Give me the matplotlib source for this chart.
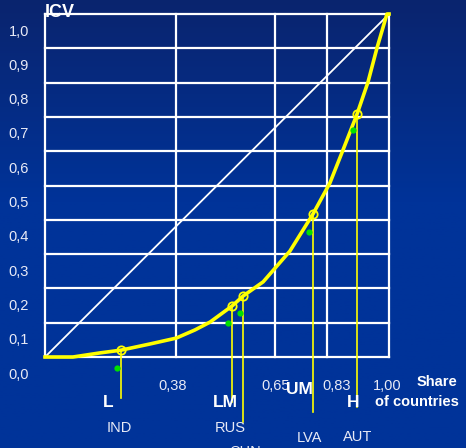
import numpy as np
import matplotlib.pyplot as plt

plt.rcParams['font.family'] = ['Liberation Sans', 'DejaVu Sans']

# データ
curve_x = [0.0, 0.081, 0.160, 0.221, 0.305, 0.381, 0.436, 0.480, 0.544, 0.576,
           0.634, 0.712, 0.779, 0.828, 0.866, 0.907, 0.939, 0.965, 0.994, 1.0]
curve_y = [0.0, 0.0, 0.012, 0.020, 0.038, 0.055, 0.079, 0.102, 0.149, 0.178,
           0.219, 0.309, 0.417, 0.507, 0.603, 0.708, 0.802, 0.901, 1.0, 1.0]

# 各グループの代表国
group_names = ['L', 'LM', '', 'UM', 'H']
country_names = ['IND', 'RUS', 'CHN', 'LVA', 'AUT']
mark_x = [0.221, 0.544, 0.576, 0.779, 0.907]
mark_y = [0.020, 0.149, 0.178, 0.417, 0.708]
green_x = [0.209, 0.532, 0.567, 0.767, 0.895]
green_y = [-0.032, 0.099, 0.128, 0.364, 0.662]

xtick_pos = [0.38, 0.67, 0.82, 1.0]
xtick_labels = ['0,38', '0,65', '0,83', '1,00']
ytick_vals = [0.0, 0.1, 0.2, 0.3, 0.4, 0.5, 0.6, 0.7, 0.8, 0.9, 1.0]
ytick_labels = ['0,0', '0,1', '0,2', '0,3', '0,4', '0,5', '0,6', '0,7', '0,8', '0,9', '1,0']

fig = plt.figure(figsize=(4.66, 4.48), dpi=100)

# 背景グラデーション
bg = fig.add_axes([0, 0, 1, 1])
grad = np.linspace(0, 1, 200).reshape(-1, 1)
c_top = np.array([0x0a, 0x24, 0x6e]) / 255
c_bot = np.array([0x00, 0x33, 0x99]) / 255
t = np.clip(grad / 0.45, 0, 1)
img = c_top + (c_bot - c_top) * t
bg.imshow(img.reshape(200, 1, 3), aspect='auto', extent=[0, 1, 0, 1])
bg.axis('off')

ax = fig.add_axes([0.0966, 0.2031, 0.7382, 0.7656])
ax.set_xlim(0, 1)
ax.set_ylim(0, 1)
ax.axis('off')

# グリッド
for v in ytick_vals:
    ax.axhline(v, color='white', lw=1.6, clip_on=False, zorder=1)
ax.axvline(0, color='white', lw=1.6, clip_on=False, zorder=1)
for v in xtick_pos:
    ax.axvline(v, color='white', lw=1.6, clip_on=False, zorder=1)

# 対角線
ax.plot([0, 1], [0, 1], color='white', lw=1.3, zorder=2)

# 曲線
ax.plot(curve_x, curve_y, color='#ffff00', lw=2.6, zorder=3, clip_on=False)

# 縦線と印
line_bottom = [-0.12, -0.13, -0.19, -0.16, -0.145]
for x, y, yb in zip(mark_x, mark_y, line_bottom):
    ax.plot([x, x], [y, yb], color='#ffff00', lw=1.2, zorder=3, clip_on=False)
ax.plot(mark_x, mark_y, 'o', ms=6, mfc='none', mec='#ffff00', mew=1.3, zorder=4, clip_on=False)
ax.plot(green_x, green_y, 'o', ms=4.5, color='#00e000', mec='none', zorder=4, clip_on=False)

# 目盛りラベル
for v, lab in zip(ytick_vals, ytick_labels):
    ax.text(-0.0756, v - 0.051, lab, color='#e8eaf6', fontsize=10.5,
            ha='center', va='center', clip_on=False)
xlab_x = [0.37, 0.67, 0.849, 0.994]
for x, lab in zip(xlab_x, xtick_labels):
    ax.text(x, -0.084, lab, color='#e8eaf6', fontsize=10.5,
            ha='center', va='center', clip_on=False)

ax.text(0.0, 1.005, 'ICV', color='white', fontsize=13, fontweight='bold',
        ha='left', va='center', clip_on=False)

# グループ名と国名
grp_pos = [(0.183, -0.134), (0.523, -0.134), None, (0.739, -0.096), (0.895, -0.134)]
for g, p in zip(group_names, grp_pos):
    if p is None:
        continue
    ax.text(p[0], p[1], g, color='white', fontsize=12.5, fontweight='bold',
            ha='center', va='center', clip_on=False)
cty_pos = [(0.215, -0.207), (0.538, -0.207), (0.581, -0.277), (0.770, -0.236), (0.910, -0.233)]
for c, p in zip(country_names, cty_pos):
    ax.text(p[0], p[1], c, color='#e8eaf6', fontsize=10.5,
            ha='center', va='center', clip_on=False)

ax.text(1.140, -0.073, 'Share', color='white', fontsize=10.5, fontweight='bold',
        ha='center', va='center', clip_on=False)
ax.text(1.081, -0.131, 'of countries', color='white', fontsize=10.5, fontweight='bold',
        ha='center', va='center', clip_on=False)

fig.savefig('out.png', dpi=100)
